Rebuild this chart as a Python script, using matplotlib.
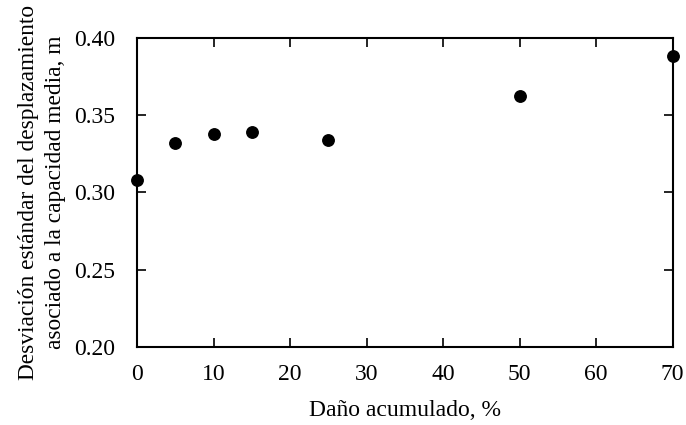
import matplotlib
matplotlib.use('Agg')
from matplotlib import pyplot as plt

dano = [0, 5, 10, 15, 25, 50, 70]
desv = [0.308, 0.332, 0.338, 0.339, 0.334, 0.3625, 0.388]

fam = 'Liberation Serif'

fig = plt.figure(figsize=(6.86, 4.25), dpi=100)
ax = fig.add_axes([0.1997, 0.1835, 0.9805 - 0.1997, 0.9111 - 0.1835])

ax.scatter(dano, desv, s=68, color='black', zorder=3, clip_on=False)

ax.set_xlim(0, 70)
ax.set_ylim(0.20, 0.40)
ax.set_xticks(range(0, 71, 10))
ax.set_yticks([0.20, 0.25, 0.30, 0.35, 0.40])
ax.set_yticklabels(['0.20', '0.25', '0.30', '0.35', '0.40'])
ax.tick_params(direction='in', top=True, right=True, length=6.5, width=1.2)
ax.tick_params(axis='x', pad=12)
ax.tick_params(axis='y', pad=16)
for lab in ax.get_xticklabels() + ax.get_yticklabels():
    lab.set_fontfamily(fam)
    lab.set_fontsize(17)
for s in ax.spines.values():
    s.set_linewidth(1.5)

ax.set_xlabel('Daño acumulado, %', labelpad=11, fontfamily=fam, fontsize=17)
ax.set_ylabel('Desviación estándar del desplazamiento\nasociado a la capacidad media, m',
              linespacing=1.4, labelpad=5.5, fontfamily=fam, fontsize=16.8)

fig.savefig('out.png', dpi=100)
